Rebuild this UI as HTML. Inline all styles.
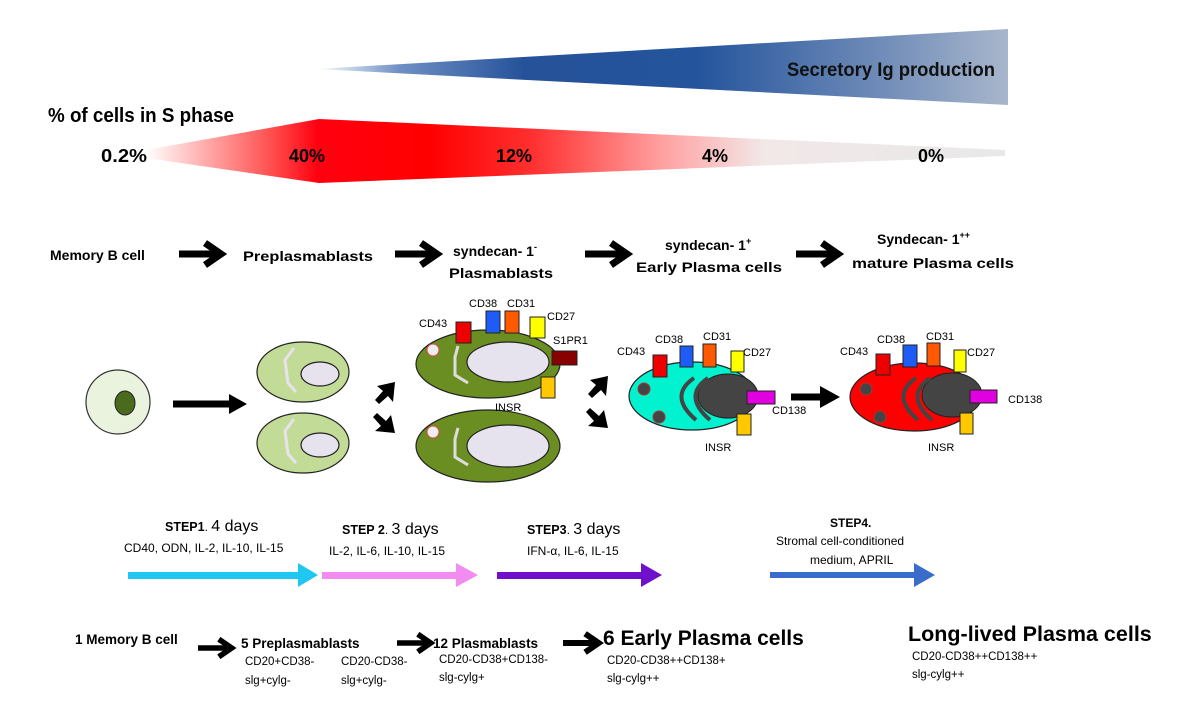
<!DOCTYPE html>
<html><head><meta charset="utf-8"><style>
html,body{margin:0;padding:0;background:#fff;}
svg{display:block;}
text{font-family:"Liberation Sans",sans-serif;}
.n{font-family:"Liberation Sans",sans-serif;font-weight:bold;}
.c{font-family:"DejaVu Sans",sans-serif;font-size:11px;}
</style></head><body>
<svg width="1200" height="719" viewBox="0 0 1200 719" xmlns="http://www.w3.org/2000/svg">
<defs>
<linearGradient id="bl" x1="316" x2="1008" y1="0" y2="0" gradientUnits="userSpaceOnUse">
<stop offset="0" stop-color="#ffffff"/><stop offset="0.12" stop-color="#6f8fc4"/><stop offset="0.3" stop-color="#26529a"/><stop offset="0.55" stop-color="#24549c"/><stop offset="0.8" stop-color="#6b88b6"/><stop offset="1" stop-color="#a8b6cc"/></linearGradient>
<linearGradient id="rd" x1="146" x2="1005" y1="0" y2="0" gradientUnits="userSpaceOnUse">
<stop offset="0" stop-color="#ffffff"/><stop offset="0.15" stop-color="#ff4a4a"/><stop offset="0.2" stop-color="#ff0010"/><stop offset="0.33" stop-color="#ff0000"/><stop offset="0.45" stop-color="#ff3030"/><stop offset="0.6" stop-color="#ffa0a0"/><stop offset="0.72" stop-color="#f2e8e8"/><stop offset="1" stop-color="#e8e8e8"/></linearGradient>
<g id="ha"><line x1="0" y1="0" x2="36" y2="0" stroke="#000" stroke-width="7"/><polyline points="26,-11 42,0 26,11" fill="none" stroke="#000" stroke-width="7"/></g>
</defs>

<polygon points="316,69 1008,29 1008,105" fill="url(#bl)"/>
<text x="787" y="76" class="n" font-size="19" fill="#111" textLength="208" lengthAdjust="spacingAndGlyphs">Secretory Ig production</text>

<text x="48" y="122" class="n" font-size="20" fill="#000" textLength="186" lengthAdjust="spacingAndGlyphs">% of cells in S phase</text>
<polygon points="146,150 319,119 1005,150 1005,156 319,183 146,158" fill="url(#rd)"/>
<g class="n" font-size="18" fill="#000">
<text x="101" y="162" textLength="46" lengthAdjust="spacingAndGlyphs">0.2%</text><text x="289" y="162" textLength="36" lengthAdjust="spacingAndGlyphs">40%</text><text x="496" y="162" textLength="36" lengthAdjust="spacingAndGlyphs">12%</text><text x="702" y="162" textLength="26" lengthAdjust="spacingAndGlyphs">4%</text><text x="918" y="162" textLength="26" lengthAdjust="spacingAndGlyphs">0%</text></g>

<g font-weight="bold" font-size="14" fill="#000">
<text x="50" y="260">Memory B cell</text>
<text x="243" y="261" textLength="130" lengthAdjust="spacingAndGlyphs">Preplasmablasts</text>
<text x="453" y="256">syndecan- 1<tspan font-size="9" dy="-6">-</tspan></text>
<text x="449" y="278" textLength="104" lengthAdjust="spacingAndGlyphs">Plasmablasts</text>
<text x="665" y="250">syndecan- 1<tspan font-size="9" dy="-6">+</tspan></text>
<text x="636" y="272" textLength="146" lengthAdjust="spacingAndGlyphs">Early Plasma cells</text>
<text x="877" y="244">Syndecan- 1<tspan font-size="9" dy="-6">++</tspan></text>
<text x="852" y="268" textLength="162" lengthAdjust="spacingAndGlyphs">mature Plasma cells</text>
</g>
<use href="#ha" x="179" y="254"/>
<use href="#ha" x="395" y="254"/>
<use href="#ha" x="585" y="254"/>
<use href="#ha" x="796" y="254"/>

<circle cx="118" cy="402" r="32" fill="#eaf3dd" stroke="#333" stroke-width="1.2"/>
<ellipse cx="125" cy="403" rx="10" ry="12" fill="#4a6a1e" stroke="#222"/>
<line x1="173" y1="404" x2="232" y2="404" stroke="#000" stroke-width="7"/>
<polygon points="229,394 247,404 229,414" fill="#000"/>

<g stroke="#222" stroke-width="1.2">
<ellipse cx="303" cy="372" rx="46" ry="30" fill="#c2dc98"/>
<ellipse cx="320" cy="374" rx="19" ry="12" fill="#e6e2ee"/>
<ellipse cx="303" cy="443" rx="46" ry="30" fill="#c2dc98"/>
<ellipse cx="320" cy="445" rx="19" ry="12" fill="#e6e2ee"/>
</g>
<polyline points="294,348 285,360 288,383 296,392" fill="none" stroke="#e4e4ea" stroke-width="3"/>
<polyline points="294,419 285,431 288,454 296,463" fill="none" stroke="#e4e4ea" stroke-width="3"/>

<g fill="#000">
<polygon points="395,382 393,402 388,396 379,404 375,400 383,391 377,386"/>
<polygon points="395,433 375,431 381,426 373,417 377,413 386,421 391,415"/>
<polygon points="608,376 606,396 601,390 592,398 588,394 596,385 590,380"/>
<polygon points="608,428 588,426 594,421 586,412 590,408 599,416 604,410"/>
</g>

<g stroke="#222" stroke-width="1.2">
<ellipse cx="488" cy="364" rx="72" ry="34" fill="#6b8e23"/>
<ellipse cx="508" cy="362" rx="41" ry="20" fill="#e6e2ee"/>
<ellipse cx="488" cy="446" rx="72" ry="36" fill="#6b8e23"/>
<ellipse cx="508" cy="446" rx="41" ry="21" fill="#e6e2ee"/>
</g>
<circle cx="433" cy="350" r="6" fill="#eee" stroke="#d44"/>
<circle cx="433" cy="432" r="6" fill="#eee" stroke="#d44"/>
<polyline points="458,346 455,357 455,375 468,383" fill="none" stroke="#ddd" stroke-width="3"/>
<polyline points="458,428 455,439 455,457 468,465" fill="none" stroke="#ddd" stroke-width="3"/>
<g stroke="#222" stroke-width="1">
<rect x="456" y="322" width="15" height="21" fill="#ee0000"/>
<rect x="486" y="311" width="14" height="22" fill="#1f5cf5"/>
<rect x="505" y="311" width="14" height="22" fill="#ff5a00"/>
<rect x="530" y="317" width="15" height="21" fill="#ffff00"/>
<rect x="552" y="351" width="25" height="14" fill="#880000"/>
<rect x="541" y="377" width="14" height="21" fill="#ffc800"/>
</g>
<g class="c" fill="#000">
<text x="419" y="327">CD43</text><text x="469" y="307">CD38</text><text x="507" y="307">CD31</text>
<text x="547" y="320">CD27</text><text x="553" y="344">S1PR1</text><text x="495" y="411">INSR</text></g>

<ellipse cx="692" cy="396" rx="63" ry="34" fill="#00f2cf" stroke="#222" stroke-width="1.2"/>
<ellipse cx="728" cy="396" rx="30" ry="22" fill="#444" stroke="#222"/>
<circle cx="644" cy="389" r="6" fill="#444" stroke="#a33"/>
<circle cx="659" cy="417" r="6" fill="#444" stroke="#a33"/>
<path d="M694,378 Q668,396 696,420 M708,378 Q682,396 710,420" fill="none" stroke="#444" stroke-width="4"/>
<g stroke="#222" stroke-width="1">
<rect x="653" y="355" width="14" height="22" fill="#ee0000"/>
<rect x="680" y="346" width="13" height="21" fill="#1f5cf5"/>
<rect x="703" y="344" width="13" height="23" fill="#ff5a00"/>
<rect x="731" y="351" width="13" height="21" fill="#ffff00"/>
<rect x="747" y="391" width="28" height="13" fill="#e000e0"/>
<rect x="737" y="414" width="14" height="21" fill="#ffc800"/>
</g>
<g class="c" fill="#000">
<text x="617" y="355">CD43</text><text x="655" y="343">CD38</text><text x="703" y="340">CD31</text>
<text x="743" y="356">CD27</text><text x="772" y="414">CD138</text><text x="705" y="451">INSR</text></g>

<line x1="791" y1="397" x2="825" y2="397" stroke="#000" stroke-width="7"/>
<polygon points="820,386 840,397 820,408" fill="#000"/>

<ellipse cx="914" cy="397" rx="64" ry="34" fill="#ff0000" stroke="#222" stroke-width="1.2"/>
<ellipse cx="952" cy="395" rx="30" ry="22" fill="#444" stroke="#222"/>
<circle cx="866" cy="389" r="6" fill="#444" stroke="#a33"/>
<circle cx="880" cy="417" r="6" fill="#444" stroke="#a33"/>
<path d="M916,378 Q890,396 918,420 M930,378 Q904,396 932,420" fill="none" stroke="#444" stroke-width="4"/>
<g stroke="#222" stroke-width="1">
<rect x="876" y="354" width="14" height="21" fill="#ee0000"/>
<rect x="903" y="345" width="14" height="22" fill="#1f5cf5"/>
<rect x="927" y="343" width="13" height="23" fill="#ff5a00"/>
<rect x="954" y="350" width="12" height="22" fill="#ffff00"/>
<rect x="970" y="390" width="27" height="13" fill="#e000e0"/>
<rect x="960" y="413" width="13" height="21" fill="#ffc800"/>
</g>
<g class="c" fill="#000">
<text x="840" y="355">CD43</text><text x="877" y="343">CD38</text><text x="926" y="340">CD31</text>
<text x="967" y="356">CD27</text><text x="1008" y="403">CD138</text><text x="928" y="451">INSR</text></g>

<g fill="#000" font-size="12">
<text x="165" y="531"><tspan font-weight="bold" font-size="12.5">STEP1</tspan>. <tspan font-size="16">4 days</tspan></text>
<text x="124" y="552">CD40, ODN, IL-2, IL-10, IL-15</text>
<text x="342" y="534"><tspan font-weight="bold" font-size="12.5">STEP 2</tspan>. <tspan font-size="16">3 days</tspan></text>
<text x="329" y="555">IL-2, IL-6, IL-10, IL-15</text>
<text x="527" y="534"><tspan font-weight="bold" font-size="12.5">STEP3</tspan>. <tspan font-size="16">3 days</tspan></text>
<text x="527" y="555">IFN-α, IL-6, IL-15</text>
<text x="830" y="527" font-weight="bold">STEP4.</text>
<text x="776" y="545">Stromal cell-conditioned</text>
<text x="810" y="564">medium, APRIL</text>
</g>
<rect x="128" y="572" width="172" height="7" fill="#1ec8f0"/><polygon points="298,563 318,575 298,587" fill="#1ec8f0"/>
<rect x="322" y="572" width="136" height="7" fill="#f28cf0"/><polygon points="456,563 478,575 456,587" fill="#f28cf0"/>
<rect x="497" y="572" width="146" height="7" fill="#6e10cc"/><polygon points="641,563 662,575 641,587" fill="#6e10cc"/>
<rect x="770" y="572" width="146" height="6" fill="#3a6ccc"/><polygon points="914,563 935,575 914,587" fill="#3a6ccc"/>

<g fill="#000">
<text x="75" y="644" font-weight="bold" font-size="13.5">1 Memory B cell</text>
<text x="241" y="648" font-weight="bold" font-size="13.5">5 Preplasmablasts</text>
<text x="433" y="648" font-weight="bold" font-size="13.5">12 Plasmablasts</text>
<text x="603" y="645" font-weight="bold" font-size="21">6  Early Plasma cells</text>
<text x="908" y="641" font-weight="bold" font-size="21.5">Long-lived Plasma cells</text>
<g font-size="11.5">
<text x="245" y="665">CD20+CD38-</text><text x="245" y="684">slg+cylg-</text>
<text x="341" y="665">CD20-CD38-</text><text x="341" y="684">slg+cylg-</text>
<text x="439" y="663">CD20-CD38+CD138-</text><text x="439" y="681">slg-cylg+</text>
<text x="607" y="664">CD20-CD38++CD138+</text><text x="607" y="682">slg-cylg++</text>
<text x="912" y="660">CD20-CD38++CD138++</text><text x="912" y="678">slg-cylg++</text>
</g></g>
<g transform="translate(198,648) scale(0.8)"><use href="#ha"/></g>
<g transform="translate(397,643) scale(0.8)"><use href="#ha"/></g>
<g transform="translate(563,643) scale(0.85)"><use href="#ha"/></g>
</svg>
</body></html>
